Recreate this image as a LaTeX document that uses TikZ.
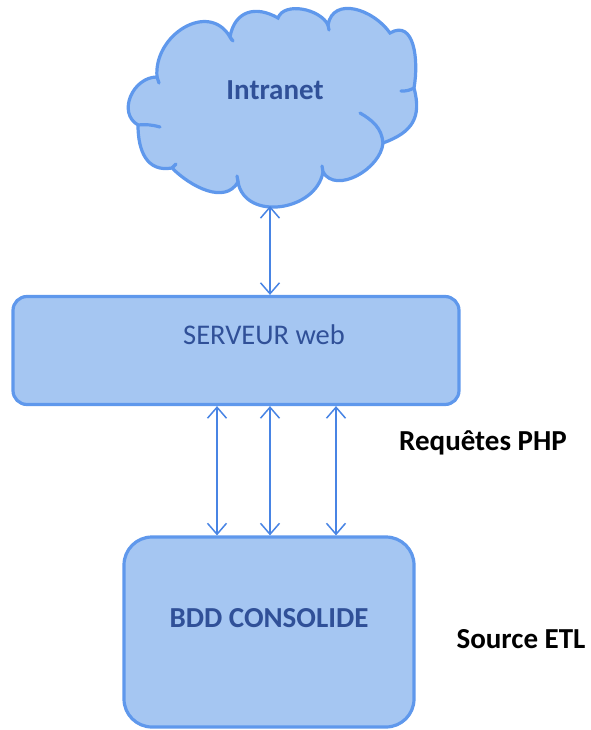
\documentclass[tikz,border=0pt]{standalone}
\usepackage{fontspec}
\setmainfont{Carlito}
\usetikzlibrary{arrows.meta}
\definecolor{shapefill}{RGB}{165,198,242}
\definecolor{shapeline}{RGB}{95,152,236}
\definecolor{labelblue}{RGB}{48,80,152}
\definecolor{linkblue}{RGB}{72,132,228}
\begin{document}
\begin{tikzpicture}[x=1pt,y=-1pt,
  shapestyle/.style={fill=shapefill, draw=shapeline, line width=3.2pt},
  boxstyle/.style={shapestyle, rounded corners=#1, inner sep=0pt, rectangle},
  wrinkle/.style={draw=shapeline, line width=3.2pt, line cap=round},
  biarrow/.style={draw=linkblue, line width=1.5pt,
    {Straight Barb[length=11pt,width=19pt]}-{Straight Barb[length=11pt,width=19pt]}},
  labelbold/.style={font=\fontsize{29pt}{34pt}\selectfont\bfseries, inner sep=0pt, anchor=base},
  labelreg/.style={font=\fontsize{28.5pt}{34pt}\selectfont, inner sep=0pt, anchor=base}
]
\useasboundingbox (0,0) rectangle (590,730);

% Intranet cloud outline, one puff between each pair of valleys
\path[shapestyle]
  (157,77)  to[out=95,  in=120, looseness=1.3]  (230,37)
            to[out=80,  in=150, looseness=1.3]  (278,18)
            to[out=70,  in=115, looseness=0.9]  (328,25)
            to[out=80,  in=125, looseness=1.2]  (390,33)
            to[out=30,  in=80,  looseness=1.2]  (414,88)
            to[out=-75, in=20,  looseness=1.25] (383,143)
            to[out=-95, in=-60, looseness=1.0]  (323,172)
            to[out=-100,in=-80, looseness=1.2]  (238,182)
            to[out=-120,in=-45, looseness=1.0]  (172,168)
            to[out=190, in=-90, looseness=1.2]  (138,125)
            to[out=150, in=180, looseness=1.2]  (157,77) -- cycle;
% inner creases where puffs overlap
\draw[wrinkle] (157,77) -- (159,83);
\draw[wrinkle] (230,37) -- (233,41);
\draw[wrinkle] (328,25) -- (329,30);
\draw[wrinkle] (414,88) to[bend left=15] (401,91);
\draw[wrinkle] (383,143) to[out=95, in=-30] (360,113);
\draw[wrinkle] (323,172) -- (322,166);
\draw[wrinkle] (238,182) -- (237,176);
\draw[wrinkle] (172,168) -- (176,164);
\draw[wrinkle] (138,125) to[bend left=10] (160,127);
\coordinate (cloudbot) at (270,206);
\node[labelbold, text=labelblue] (intranet) at (275,100) {Intranet};

% web server and consolidated database
\node[boxstyle=14pt, minimum width=446pt, minimum height=108pt] (srv) at (236,350.5) {};
\node[labelreg, text=labelblue] (srvtext) at (264,344) {SERVEUR web};
\node[boxstyle=28pt, minimum width=290pt, minimum height=190pt] (bdd) at (269,632) {};
\node[labelbold, text=labelblue] (bddtext) at (269,627) {BDD CONSOLIDE};

% side captions
\node[labelbold] (php) at (483,450) {Requêtes PHP};
\node[labelbold] (etl) at (521,648) {Source ETL};

% links
\draw[biarrow] (cloudbot) -- ([xshift=34pt]srv.north);
\draw[biarrow] ([xshift=-19pt]srv.south) -- ([xshift=-52pt]bdd.north);
\draw[biarrow] ([xshift=34pt]srv.south) -- ([xshift=1pt]bdd.north);
\draw[biarrow] ([xshift=100pt]srv.south) -- ([xshift=67pt]bdd.north);
\end{tikzpicture}
\end{document}
